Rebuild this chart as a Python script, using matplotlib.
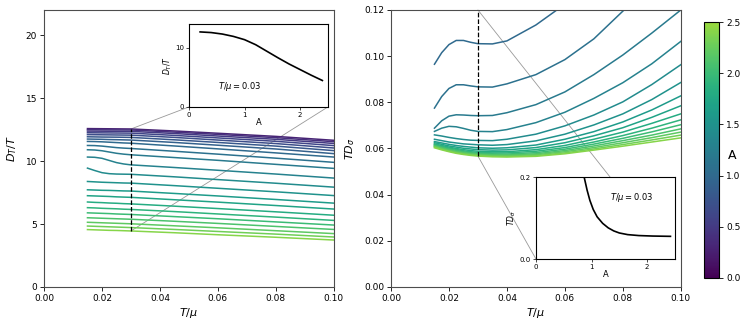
import numpy as np
import matplotlib
matplotlib.use('Agg')
import matplotlib.pyplot as plt
from matplotlib.colors import ListedColormap, Normalize
from matplotlib.cm import ScalarMappable
from matplotlib.patches import ConnectionPatch

# ---- datos: panel izquierdo D_T/T vs T/mu ----
t_left = [0.015, 0.0175, 0.02, 0.0225, 0.025, 0.0275, 0.03, 0.045, 0.06, 0.08, 0.10]
a_left = [0.3, 0.4, 0.5, 0.6, 0.7, 0.8, 0.9, 1.0, 1.1, 1.2, 1.3,
          1.4, 1.5, 1.6, 1.7, 1.8, 1.9, 2.0, 2.1, 2.2, 2.3, 2.4]
dt_left = [
    [12.58, 12.575, 12.57, 12.565, 12.56, 12.555, 12.55, 12.39, 12.21, 11.96, 11.65],
    [12.49, 12.487, 12.483, 12.48, 12.477, 12.473, 12.47, 12.30, 12.12, 11.86, 11.54],
    [12.38, 12.377, 12.373, 12.37, 12.367, 12.363, 12.36, 12.19, 11.99, 11.73, 11.40],
    [12.25, 12.245, 12.24, 12.235, 12.23, 12.225, 12.22, 12.04, 11.84, 11.57, 11.23],
    [12.10, 12.093, 12.087, 12.08, 12.073, 12.067, 12.06, 11.88, 11.67, 11.39, 11.04],
    [11.93, 11.92, 11.91, 11.905, 11.90, 11.89, 11.88, 11.69, 11.48, 11.19, 10.83],
    [11.75, 11.74, 11.73, 11.71, 11.70, 11.685, 11.67, 11.48, 11.26, 10.96, 10.59],
    [11.56, 11.55, 11.53, 11.50, 11.47, 11.44, 11.42, 11.20, 10.97, 10.65, 10.32],
    [11.24, 11.23, 11.19, 11.13, 11.07, 11.03, 11.00, 10.78, 10.55, 10.23, 9.90],
    [10.90, 10.88, 10.82, 10.72, 10.62, 10.55, 10.50, 10.28, 10.06, 9.74, 9.42],
    [10.32, 10.30, 10.22, 10.05, 9.88, 9.77, 9.70, 9.49, 9.27, 8.97, 8.65],
    [9.44, 9.25, 9.08, 9.00, 8.97, 8.96, 8.95, 8.75, 8.53, 8.24, 7.93],
    [8.38, 8.35, 8.32, 8.30, 8.28, 8.26, 8.25, 8.05, 7.84, 7.56, 7.26],
    [7.72, 7.70, 7.68, 7.67, 7.65, 7.63, 7.62, 7.43, 7.23, 6.95, 6.66],
    [7.25, 7.23, 7.21, 7.19, 7.16, 7.14, 7.12, 6.93, 6.74, 6.47, 6.19],
    [6.75, 6.72, 6.70, 6.67, 6.65, 6.62, 6.60, 6.42, 6.23, 5.97, 5.70],
    [6.30, 6.28, 6.25, 6.23, 6.21, 6.18, 6.16, 5.99, 5.80, 5.55, 5.29],
    [5.89, 5.87, 5.85, 5.83, 5.80, 5.78, 5.76, 5.59, 5.42, 5.17, 4.92],
    [5.50, 5.48, 5.46, 5.44, 5.42, 5.40, 5.38, 5.22, 5.05, 4.81, 4.57],
    [5.14, 5.12, 5.10, 5.08, 5.06, 5.04, 5.02, 4.86, 4.70, 4.47, 4.24],
    [4.84, 4.82, 4.80, 4.78, 4.76, 4.74, 4.72, 4.57, 4.41, 4.20, 3.97],
    [4.56, 4.54, 4.52, 4.50, 4.49, 4.47, 4.45, 4.31, 4.15, 3.95, 3.73],
]

# ---- datos: panel derecho T D_sigma vs T/mu ----
t_right = [0.015, 0.0175, 0.02, 0.0225, 0.025, 0.0275, 0.03, 0.035,
           0.04, 0.05, 0.06, 0.07, 0.08, 0.09, 0.10]
a_right = [1.0, 1.1, 1.2, 1.3, 1.4, 1.5, 1.6, 1.7, 1.8, 1.9, 2.0, 2.1, 2.2, 2.3, 2.4]
tds_right = [
    [0.0965, 0.1015, 0.1050, 0.1068, 0.1068, 0.1060, 0.1054, 0.1053, 0.1066, 0.1135, 0.1225, 0.132, 0.142, 0.152, 0.162],
    [0.0775, 0.0825, 0.0860, 0.0876, 0.0876, 0.0871, 0.0867, 0.0866, 0.0880, 0.0920, 0.0985, 0.1075, 0.1195, 0.131, 0.143],
    [0.0688, 0.0720, 0.0740, 0.0746, 0.0745, 0.0743, 0.0742, 0.0743, 0.0755, 0.0790, 0.0845, 0.0920, 0.1005, 0.1100, 0.1200],
    [0.0674, 0.0688, 0.0696, 0.0694, 0.0687, 0.0679, 0.0674, 0.0673, 0.0682, 0.0712, 0.0757, 0.0817, 0.0885, 0.0967, 0.1064],
    [0.0659, 0.0654, 0.0648, 0.0643, 0.0639, 0.0636, 0.0635, 0.0634, 0.0640, 0.0662, 0.0698, 0.0745, 0.0802, 0.0877, 0.0963],
    [0.0640, 0.0634, 0.0628, 0.0624, 0.0620, 0.0618, 0.0616, 0.0614, 0.0617, 0.0633, 0.0662, 0.0702, 0.0750, 0.0812, 0.0886],
    [0.0630, 0.0624, 0.0618, 0.0613, 0.0609, 0.0606, 0.0603, 0.0601, 0.0603, 0.0615, 0.0640, 0.0673, 0.0715, 0.0767, 0.0828],
    [0.0625, 0.0618, 0.0611, 0.0606, 0.0601, 0.0598, 0.0595, 0.0593, 0.0594, 0.0604, 0.0625, 0.0655, 0.0690, 0.0735, 0.0785],
    [0.0620, 0.0613, 0.0606, 0.0600, 0.0595, 0.0591, 0.0588, 0.0586, 0.0586, 0.0595, 0.0613, 0.0640, 0.0671, 0.0709, 0.0750],
    [0.0617, 0.0609, 0.0602, 0.0596, 0.0590, 0.0586, 0.0583, 0.0581, 0.0581, 0.0588, 0.0604, 0.0628, 0.0656, 0.0688, 0.0724],
    [0.0614, 0.0606, 0.0598, 0.0592, 0.0586, 0.0582, 0.0579, 0.0577, 0.0576, 0.0582, 0.0597, 0.0619, 0.0644, 0.0672, 0.0703],
    [0.0611, 0.0603, 0.0595, 0.0588, 0.0583, 0.0579, 0.0576, 0.0573, 0.0572, 0.0577, 0.0591, 0.0611, 0.0634, 0.0658, 0.0685],
    [0.0609, 0.0600, 0.0592, 0.0585, 0.0580, 0.0576, 0.0573, 0.0570, 0.0569, 0.0573, 0.0586, 0.0604, 0.0625, 0.0647, 0.0671],
    [0.0606, 0.0597, 0.0589, 0.0582, 0.0577, 0.0573, 0.0570, 0.0567, 0.0566, 0.0569, 0.0581, 0.0598, 0.0617, 0.0637, 0.0658],
    [0.0603, 0.0594, 0.0586, 0.0579, 0.0574, 0.0570, 0.0567, 0.0564, 0.0563, 0.0566, 0.0577, 0.0593, 0.0610, 0.0628, 0.0646],
]

# ---- insets a T/mu = 0.03 ----
t_sel = 0.03
a_ins_l = [0.2, 0.4, 0.6, 0.8, 1.0, 1.2, 1.4, 1.6, 1.8, 2.0, 2.2, 2.4]
dt_ins_l = [12.66, 12.55, 12.3, 11.9, 11.35, 10.5, 9.4, 8.3, 7.25, 6.3, 5.35, 4.46]
a_ins_r = [0.87, 0.92, 0.97, 1.03, 1.1, 1.2, 1.3, 1.4, 1.5, 1.65, 1.85, 2.1, 2.42]
tds_ins_r = [0.198, 0.168, 0.143, 0.121, 0.103, 0.087, 0.076, 0.0685, 0.0635, 0.0595, 0.0572, 0.0560, 0.0553]

cmap = ListedColormap(plt.cm.viridis(np.linspace(0, 0.85, 256)))
norm = Normalize(0, 2.5)

plt.rcParams['font.family'] = 'DejaVu Sans'
fig = plt.figure(figsize=(7.47, 3.24), dpi=100)
ax1 = fig.add_axes([0.0589, 0.1142, 0.388, 0.855])
ax2 = fig.add_axes([0.5234, 0.1142, 0.388, 0.855])
cax = fig.add_axes([0.9424, 0.142, 0.0201, 0.790])
ins1 = fig.add_axes([0.253, 0.670, 0.186, 0.256])
ins2 = fig.add_axes([0.7175, 0.2006, 0.186, 0.253])

for a, vals in zip(a_left, dt_left):
    ax1.plot(t_left, vals, color=cmap(norm(a)), lw=1.1)
for a, vals in zip(a_right, tds_right):
    ax2.plot(t_right, vals, color=cmap(norm(a)), lw=1.1)

# linea punteada en T/mu = 0.03
col03 = [v[t_left.index(t_sel)] for v in dt_left]
ax1.plot([t_sel, t_sel], [min(col03), max(col03)], 'k--', lw=0.9)
colr = [v[t_right.index(t_sel)] for v in tds_right]
ax2.plot([t_sel, t_sel], [min(colr), 0.12], 'k--', lw=0.9)

for ax, ylab in [(ax1, '$D_T/T$'), (ax2, '$TD_\\sigma$')]:
    ax.set_xlim(0, 0.1)
    ax.set_xticks(np.arange(0, 0.101, 0.02))
    ax.xaxis.set_major_formatter(matplotlib.ticker.FormatStrFormatter('%.2f'))
    ax.set_xlabel('$T/\\mu$', fontsize=8, labelpad=2)
    ax.set_ylabel(ylab, fontsize=8, labelpad=5)
    ax.tick_params(labelsize=6.5, length=3, width=0.6, pad=2)
    for s in ax.spines.values():
        s.set_linewidth(0.8)
        s.set_color('0.3')

ax1.set_ylim(0, 22)
ax1.set_yticks([0, 5, 10, 15, 20])
ax2.set_ylim(0, 0.12)
ax2.set_yticks(np.arange(0, 0.121, 0.02))
ax2.yaxis.set_major_formatter(matplotlib.ticker.FormatStrFormatter('%.2f'))

# insets
ins1.plot(a_ins_l, dt_ins_l, 'k-', lw=1.2)
ins1.set_ylim(0, 14)
ins1.set_yticks([0, 10])
ins1.set_ylabel('$D_T/T$', fontsize=5.5, labelpad=1)
ins1.text(0.52, 3.5, '$T/\\mu = 0.03$', fontsize=6, va='center')
ins2.plot(a_ins_r, tds_ins_r, 'k-', lw=1.2)
ins2.set_ylim(0, 0.2)
ins2.set_yticks([0.0, 0.2])
ins2.yaxis.set_major_formatter(matplotlib.ticker.FormatStrFormatter('%.1f'))
ins2.set_ylabel('$TD_\\sigma$', fontsize=5.5, labelpad=1)
ins2.text(1.34, 0.149, '$T/\\mu = 0.03$', fontsize=6, va='center')
for ins in (ins1, ins2):
    ins.set_xlim(0, 2.5)
    ins.set_xticks([0, 1, 2])
    ins.set_xlabel('A', fontsize=6, labelpad=0)
    ins.tick_params(labelsize=5, length=2, width=0.5, pad=1.5)
    for s in ins.spines.values():
        s.set_linewidth(0.8)

# lineas de conexion al inset
for xyA, xyB in [((t_sel, max(col03)), (0, 0)), ((t_sel, min(col03)), (1, 0))]:
    cp = ConnectionPatch(xyA=xyA, coordsA='data', axesA=ax1, xyB=xyB, coordsB='axes fraction',
                         axesB=ins1, color='0.6', lw=0.6)
    ax1.add_artist(cp)
for xyA, xyB in [((t_sel, 0.12), (1, 0)), ((t_sel, min(colr)), (0, 0))]:
    cp = ConnectionPatch(xyA=xyA, coordsA='data', axesA=ax2, xyB=xyB, coordsB='axes fraction',
                         axesB=ins2, color='0.6', lw=0.6)
    ax2.add_artist(cp)

cb = fig.colorbar(ScalarMappable(norm=norm, cmap=cmap), cax=cax)
cb.set_ticks([0.0, 0.5, 1.0, 1.5, 2.0, 2.5])
cb.ax.tick_params(labelsize=6.5, length=3, width=0.6, pad=2)
cb.outline.set_linewidth(0.8)
cax.text(1.85, 0.48, 'A', transform=cax.transAxes, ha='center', va='center', fontsize=9)

fig.savefig('out.png', dpi=100)
